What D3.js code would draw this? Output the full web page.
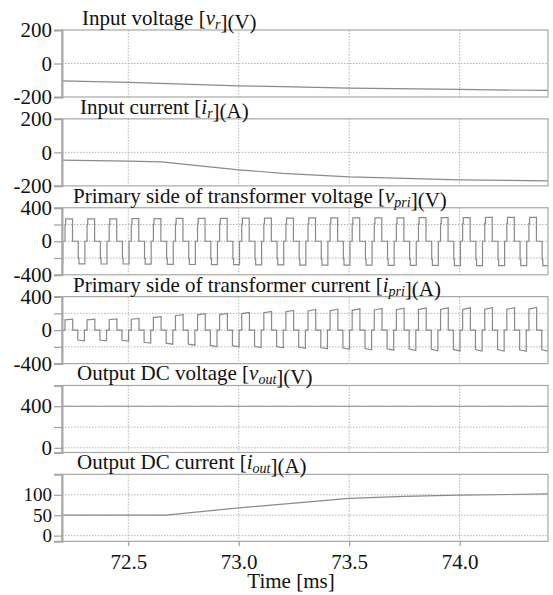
<!DOCTYPE html>
<html><head><meta charset="utf-8">
<script src="https://cdn.jsdelivr.net/npm/d3@7"></script>
<style>
html,body{margin:0;padding:0;background:#fff;}
svg{display:block;}
svg text{font-family:"Liberation Serif","Times New Roman",Times,serif !important;fill:#111;}
</style></head>
<body>
<svg id="chart" width="553" height="595"></svg>
<script>
// ---------------- data ----------------
const timeDomain = [72.2, 74.4];            // ms
const timeTicks = [72.5, 73.0, 73.5, 74.0];

// slow quantities: [time ms, value]
const inputVoltage = [[72.2,-104],[72.5,-113],[73.0,-134],[73.2,-138],[73.5,-147],[74.0,-155],[74.4,-161]];
const inputCurrent = [[72.2,-46],[72.5,-52],[72.65,-57],[73.0,-104],[73.2,-125],[73.5,-146],[74.0,-164],[74.4,-170]];
const outputVoltage = [[72.2,400],[74.4,400]];
const outputCurrent = [[72.2,50],[72.67,50],[73.0,68],[73.2,77],[73.5,91],[73.75,96],[74.0,99],[74.4,102]];

// switching waveforms: one entry per switching cycle (period 0.1 ms)
const switchPeriod = 0.1;
const firstEdge = 72.2136;
const vPriPos = [266,268,268,270,270,272,272,274,275,276,276,278,278,280,280,280,282,282,282,284,284,284];
const vPriNeg = [-270,-272,-272,-274,-276,-278,-280,-280,-282,-282,-284,-284,-286,-286,-288,-288,-288,-290,-290,-290,-292,-292];
const iPriPos = [132,132,134,140,160,184,196,200,212,224,236,246,250,254,258,262,264,266,266,268,268,270];
const iPriNeg = [-128,-128,-130,-156,-168,-180,-196,-200,-208,-212,-218,-224,-230,-236,-240,-244,-246,-248,-250,-250,-252,-252];
// pulse shapes within one cycle: [fraction of period, fraction of amplitude]
const vShape = [[0,0],[0,0.75],[0.03,0.75],[0.03,1],[0.34,1],[0.34,0],[0.6,0],[0.6,-0.75],[0.63,-0.75],[0.63,-1],[0.9,-1],[0.9,0]];
const iShape = [[0,0],[0,0.93],[0.35,1],[0.35,0],[0.58,0],[0.58,-0.93],[0.88,-1],[0.88,0]];

const panelTitles = [
  ["Input voltage [", {i:"v"}, {sub:"r"}, "](V)"],
  ["Input current [", {i:"i"}, {sub:"r"}, "](A)"],
  ["Primary side of transformer voltage [", {i:"v"}, {sub:"pri"}, "](V)"],
  ["Primary side of transformer current [", {i:"i"}, {sub:"pri"}, "](A)"],
  ["Output DC voltage [", {i:"v"}, {sub:"out"}, "](V)"],
  ["Output DC current [", {i:"i"}, {sub:"out"}, "](A)"]
];
const yDomains = [[-200,200],[-200,200],[-400,400],[-400,400],[-45,600],[-14,150]];
const yTickLabels = [[200,0,-200],[200,0,-200],[400,0,-400],[400,0,-400],[400,0],[100,50,0]];
const yMinorTicks = [[],[],[200,-200],[200,-200],[200],[]];
const yGrid = [[0],[0],[200,0,-200],[200,0,-200],[400,200,0],[100,50,0]];

// ---------------- build switching series ----------------
function buildWave(pos, neg, shape){
  const pts = [];
  for (let k = -1; k < pos.length; k++){
    const idx = Math.max(0, k);
    const t0 = firstEdge + k*switchPeriod;
    shape.forEach(([f, a]) => {
      pts.push([t0 + f*switchPeriod, a >= 0 ? a*pos[idx] : -a*neg[idx]]);
    });
  }
  return pts;
}
const vPri = buildWave(vPriPos, vPriNeg, vShape);
const iPri = buildWave(iPriPos, iPriNeg, iShape);
const series = [inputVoltage, inputCurrent, vPri, iPri, outputVoltage, outputCurrent];

// ---------------- layout ----------------
const FONT = '"Liberation Serif","Times New Roman",Times,serif';
const svg = d3.select("#chart");
const left = 62, right = 548;
const panelTop0 = 30, panelStep = 88.87, panelH = 67;
const titleX = [82, 80, 73, 73, 77, 77];
const tickFont = [21, 21, 21, 21, 21, 19];
const x = d3.scaleLinear().domain(timeDomain).range([left, right]);

svg.append("defs").append("clipPath").attr("id","plotclip")
  .append("rect").attr("x",left).attr("y",0).attr("width",right-left).attr("height",595);

series.forEach((data, p) => {
  const top = panelTop0 + p*panelStep;
  const bot = top + panelH;
  const y = d3.scaleLinear().domain(yDomains[p]).range([bot, top]);
  const g = svg.append("g");

  // vertical grid
  g.selectAll(".vg").data(timeTicks).join("line")
    .attr("x1", d => x(d)).attr("x2", d => x(d))
    .attr("y1", top).attr("y2", bot)
    .attr("stroke","#b4b4b4").attr("stroke-width",1).attr("stroke-dasharray","1.5,1.5");
  // horizontal grid
  g.selectAll(".hg").data(yGrid[p]).join("line")
    .attr("x1", left).attr("x2", right)
    .attr("y1", d => y(d)).attr("y2", d => y(d))
    .attr("stroke","#b4b4b4").attr("stroke-width",1).attr("stroke-dasharray","1.5,1.5");

  // data line
  g.append("path").datum(data)
    .attr("clip-path","url(#plotclip)")
    .attr("fill","none").attr("stroke","#8a8a8a").attr("stroke-width",1.2)
    .attr("d", d3.line().x(d => x(d[0])).y(d => y(d[1])));

  // frame
  g.append("rect").attr("x",left).attr("y",top).attr("width",right-left).attr("height",panelH)
    .attr("fill","none").attr("stroke","#a8a8a8").attr("stroke-width",1.2);

  // y axis
  const ax = d3.axisLeft(y).tickValues(yTickLabels[p].concat(yMinorTicks[p]))
    .tickSize(8).tickPadding(2)
    .tickFormat(d => yTickLabels[p].includes(d) ? String(d) : "");
  const ag = g.append("g").attr("transform",`translate(${left},0)`).call(ax)
    .attr("font-family", FONT).attr("font-size", tickFont[p]);
  ag.select(".domain").attr("stroke","#a8a8a8").attr("stroke-width",2);
  ag.selectAll(".tick line").attr("stroke","#a0a0a0").attr("stroke-width",1.2);
  ag.selectAll(".tick text").attr("fill","#111");

  // title
  const t = svg.append("text").attr("x", titleX[p]).attr("y", top - 5)
    .attr("font-size",21).attr("font-family", FONT);
  panelTitles[p].forEach(part => {
    if (typeof part === "string") t.append("tspan").text(part);
    else if (part.i) t.append("tspan").attr("font-style","italic").text(part.i);
    else if (part.sub) {
      t.append("tspan").attr("font-style","italic").attr("font-size",14).attr("dy",4).text(part.sub);
      t.append("tspan").attr("dy",-4).text("");
    }
  });

  // x axis on last panel
  if (p === series.length - 1){
    const xa = d3.axisBottom(x).tickValues(timeTicks).tickSize(5).tickPadding(8)
      .tickFormat(d3.format(".1f"));
    const xg = svg.append("g").attr("transform",`translate(0,${bot})`).call(xa)
      .attr("font-family", FONT).attr("font-size", 21);
    xg.select(".domain").remove();
    xg.selectAll(".tick line").attr("stroke","#a0a0a0").attr("stroke-width",1.2);
    xg.selectAll(".tick text").attr("fill","#111");
    svg.append("text").attr("x",291).attr("y",588).attr("text-anchor","middle")
      .attr("font-size",21).attr("font-family", FONT).text("Time [ms]");
  }
});
</script>
</body></html>
